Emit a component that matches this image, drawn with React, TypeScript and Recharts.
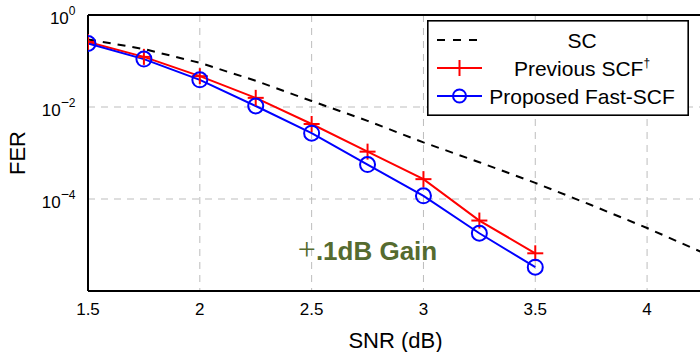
import React from 'react';
import { LineChart, Line, XAxis, YAxis, CartesianGrid, Legend, ReferenceLine, ReferenceDot } from 'recharts';

const FONT = '"Liberation Sans", Arial, Helvetica, sans-serif';

// SC curve (dashed black)
const scSnr = [1.5, 1.75, 2, 2.25, 2.5, 2.75, 3, 3.25, 3.5, 3.75, 4, 4.25];
const scFer = [0.295, 0.182, 0.0912, 0.0372, 0.0135, 0.005, 0.0017, 6.3e-4, 2.24e-4, 7.4e-5, 2.34e-5, 6.8e-6];
// SCF curves
const scfSnr = [1.5, 1.75, 2, 2.25, 2.5, 2.75, 3, 3.25, 3.5];
const prevFer = [0.26, 0.123, 0.0468, 0.0158, 0.00427, 0.00107, 2.7e-4, 3.4e-5, 6.6e-6];
const fastFer = [0.24, 0.11, 0.039, 0.0105, 0.0027, 5.6e-4, 1.17e-4, 1.8e-5, 3.3e-6];

const xTicks = [1.5, 2, 2.5, 3, 3.5, 4];
const yTicks = [1e-4, 1e-2, 1];
const seriesNames = ['SC', 'Previous SCF', 'Proposed Fast-SCF'];
const gainText = { plus: '+', rest: '.1dB Gain' };
const gainAt = { snr: 2.75, fer: 8e-6 };

const scData = scSnr.map((s, i) => ({ snr: s, fer: scFer[i] }));
const prevData = scfSnr.map((s, i) => ({ snr: s, fer: prevFer[i] }));
const fastData = scfSnr.map((s, i) => ({ snr: s, fer: fastFer[i] }));

const RED = '#ff0000';
const BLUE = '#0000ff';

const PlusDot = (props: any) => {
  const { cx, cy, index } = props;
  if (cx == null || cy == null) return <g key={`p${index}`} />;
  return (
    <g key={`p${index}`}>
      <line x1={cx - 8} x2={cx + 8} y1={cy} y2={cy} stroke={RED} strokeWidth={2} />
      <line x1={cx} x2={cx} y1={cy - 8} y2={cy + 8} stroke={RED} strokeWidth={2} />
    </g>
  );
};

const CircleDot = (props: any) => {
  const { cx, cy, index } = props;
  if (cx == null || cy == null) return <g key={`c${index}`} />;
  return <circle key={`c${index}`} cx={cx} cy={cy} r={7.5} fill="none" stroke={BLUE} strokeWidth={2} />;
};

const YTick = (props: any) => {
  const { x, y, payload } = props;
  const exp = Math.round(Math.log10(payload.value));
  return (
    <text x={x} y={y + 9} textAnchor="end" fontSize={17} fontFamily={FONT} fill="#000">
      10
      {exp === 0 ? (
        <tspan dy={-9} fontSize={12}>0</tspan>
      ) : (
        <>
          <tspan dy={-9} fontSize={14}>{'\u2212'}</tspan>
          <tspan fontSize={12}>{String(-exp)}</tspan>
        </>
      )}
    </text>
  );
};

const XLabel = (props: any) => {
  const vb = props.viewBox || {};
  return (
    <text x={vb.x + vb.width / 2} y={vb.y + 57} textAnchor="middle" fontSize={22} fontFamily={FONT} fill="#000">
      SNR (dB)
    </text>
  );
};

const YLabel = (props: any) => {
  const vb = props.viewBox || {};
  const cx = vb.x + 17;
  const cy = vb.y + vb.height / 2;
  return (
    <text x={cx} y={cy} transform={`rotate(-90, ${cx}, ${cy})`} textAnchor="middle" fontSize={22} fontFamily={FONT} fill="#000">
      FER
    </text>
  );
};

const GainLabel = (props: any) => {
  const vb = props.viewBox || {};
  const cx = vb.x + vb.width / 2;
  const cy = vb.y + vb.height / 2;
  return (
    <text x={cx} y={cy + 11} textAnchor="middle" fill="#556b2f">
      <tspan fontFamily='"Liberation Serif", serif' fontSize={32}>{gainText.plus}</tspan>
      <tspan fontFamily={FONT} fontWeight="bold" fontSize={26}>{gainText.rest}</tspan>
    </text>
  );
};

const LegendBox = () => {
  const rows = [20, 48, 76];
  return (
    <svg width={262} height={96} style={{ display: 'block' }}>
      <rect x={0.8} y={0.8} width={260.4} height={94.4} fill="#fff" stroke="#000" strokeWidth={1.6} />
      <line x1={10} x2={55} y1={rows[0]} y2={rows[0]} stroke="#000" strokeWidth={2} strokeDasharray="8 8" />
      <line x1={10} x2={55} y1={rows[1]} y2={rows[1]} stroke={RED} strokeWidth={2} />
      <line x1={32.5} x2={32.5} y1={rows[1] - 8} y2={rows[1] + 8} stroke={RED} strokeWidth={2} />
      <line x1={10} x2={55} y1={rows[2]} y2={rows[2]} stroke={BLUE} strokeWidth={2} />
      <circle cx={32.5} cy={rows[2]} r={6.5} fill="none" stroke={BLUE} strokeWidth={2} />
      <text x={155} y={rows[0] + 7.5} textAnchor="middle" fontSize={21} fontFamily={FONT} fill="#000">{seriesNames[0]}</text>
      <text x={155} y={rows[1] + 7.5} textAnchor="middle" fontSize={21} fontFamily={FONT} fill="#000">
        {seriesNames[1]}
        <tspan dy={-9} fontSize={12}>{'\u2020'}</tspan>
      </text>
      <text x={155} y={rows[2] + 7.5} textAnchor="middle" fontSize={21} fontFamily={FONT} fill="#000">{seriesNames[2]}</text>
    </svg>
  );
};

export default function App() {
  return (
    <div style={{ position: 'absolute', left: 0, top: 0, width: 700, height: 352, overflow: 'hidden' }}>
      <LineChart width={708} height={352} margin={{ top: 15, right: 5, left: 8, bottom: 0 }} style={{ fontFamily: FONT }}>
        <CartesianGrid stroke="#bdbdbd" strokeDasharray="7 6" />
        <XAxis
          type="number"
          dataKey="snr"
          domain={[1.5, 4.25]}
          allowDataOverflow
          ticks={xTicks}
          interval={0}
          height={61}
          tickSize={0}
          tickMargin={12}
          tickLine={false}
          axisLine={{ stroke: '#000', strokeWidth: 2 }}
          tick={{ fontSize: 17, fill: '#000', fontFamily: FONT }}
          label={XLabel}
        />
        <YAxis
          type="number"
          scale="log"
          domain={[1e-6, 1]}
          allowDataOverflow
          ticks={yTicks}
          interval={0}
          width={80}
          tickSize={0}
          tickMargin={12.5}
          tickLine={false}
          axisLine={{ stroke: '#000', strokeWidth: 2 }}
          tick={YTick}
          label={YLabel}
        />
        <ReferenceLine y={1} stroke="#000" strokeWidth={2} />
        <Line data={scData} dataKey="fer" name={seriesNames[0]} stroke="#000" strokeWidth={2} strokeDasharray="8 7" dot={false} isAnimationActive={false} />
        <Line data={prevData} dataKey="fer" name={seriesNames[1]} stroke={RED} strokeWidth={2} dot={PlusDot} isAnimationActive={false} />
        <Line data={fastData} dataKey="fer" name={seriesNames[2]} stroke={BLUE} strokeWidth={2} dot={CircleDot} isAnimationActive={false} />
        <ReferenceDot x={gainAt.snr} y={gainAt.fer} r={1} fill="none" stroke="none" label={GainLabel} />
        <Legend
          layout="vertical"
          align="center"
          verticalAlign="middle"
          wrapperStyle={{ left: 427, top: 20, width: 262, height: 96 }}
          content={LegendBox}
        />
      </LineChart>
    </div>
  );
}
